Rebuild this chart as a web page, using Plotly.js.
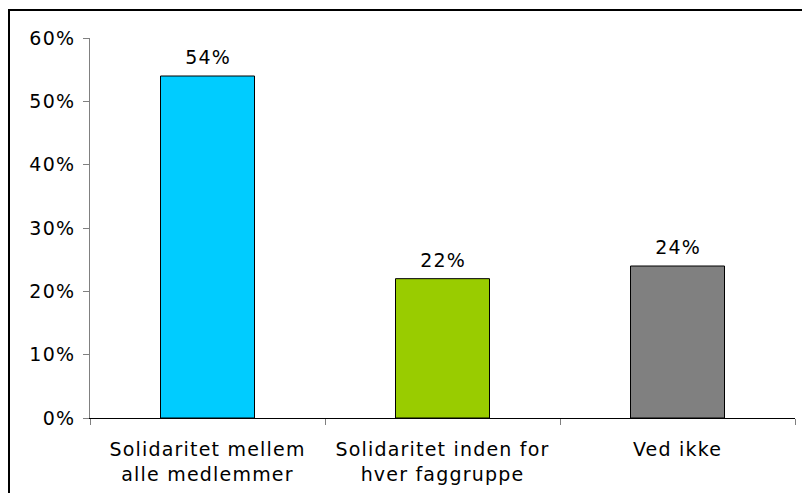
<!DOCTYPE html>
<html>
<head>
<meta charset="utf-8">
<script src="https://cdn.plot.ly/plotly-3.0.1.min.js"></script>
<style>
  html, body { margin: 0; padding: 0; background: #fff; }
  #chart { position: absolute; left: 0; top: 0; width: 802px; height: 493px; }
  #chart text { letter-spacing: 1.2px; }
  #frame { position: absolute; left: 8px; top: 9px; width: 820px; height: 520px;
           border-left: 2px solid #000; border-top: 2px solid #000; pointer-events: none; }
</style>
</head>
<body>
<div id="chart"></div>
<div id="frame"></div>
<script>
const categories = ["Solidaritet mellem<br>alle medlemmer", "Solidaritet inden for<br>hver faggruppe", "Ved ikke"];
const values = [54, 22, 24];
const barColors = ["#00CCFF", "#99CC00", "#808080"];
const valueLabels = values.map(v => v + "%");

const font = { family: "DejaVu Sans, Verdana, sans-serif", size: 19, color: "#000" };

const trace = {
  type: "bar",
  x: categories,
  y: values,
  width: 0.4,
  marker: { color: barColors, line: { color: "#000", width: 1 } },
  cliponaxis: false,
  hoverinfo: "none"
};

const annotations = categories.map((c, i) => ({
  x: c, y: values[i], xref: "x", yref: "y",
  text: valueLabels[i], showarrow: false,
  yanchor: "bottom", xanchor: "center", yshift: 6,
  font: font
}));

const layout = {
  width: 802, height: 493,
  margin: { l: 90, r: 7, t: 38, b: 75 },
  paper_bgcolor: "#fff", plot_bgcolor: "#fff",
  font: font,
  showlegend: false,
  annotations: annotations,
  xaxis: {
    type: "category",
    showline: true, linecolor: "#000", linewidth: 1,
    ticks: "outside", tickson: "boundaries", ticklen: 6, tickcolor: "#808080",
    ticklabelstandoff: 14,
    showgrid: false, zeroline: false,
    tickfont: font
  },
  yaxis: {
    range: [0, 60], dtick: 10, ticksuffix: "%",
    showline: true, linecolor: "#808080", linewidth: 1,
    ticks: "outside", ticklen: 6, tickcolor: "#808080",
    ticklabelstandoff: 4,
    showgrid: false, zeroline: false,
    tickfont: font
  }
};

Plotly.newPlot("chart", [trace], layout, { staticPlot: true });
</script>
</body>
</html>
